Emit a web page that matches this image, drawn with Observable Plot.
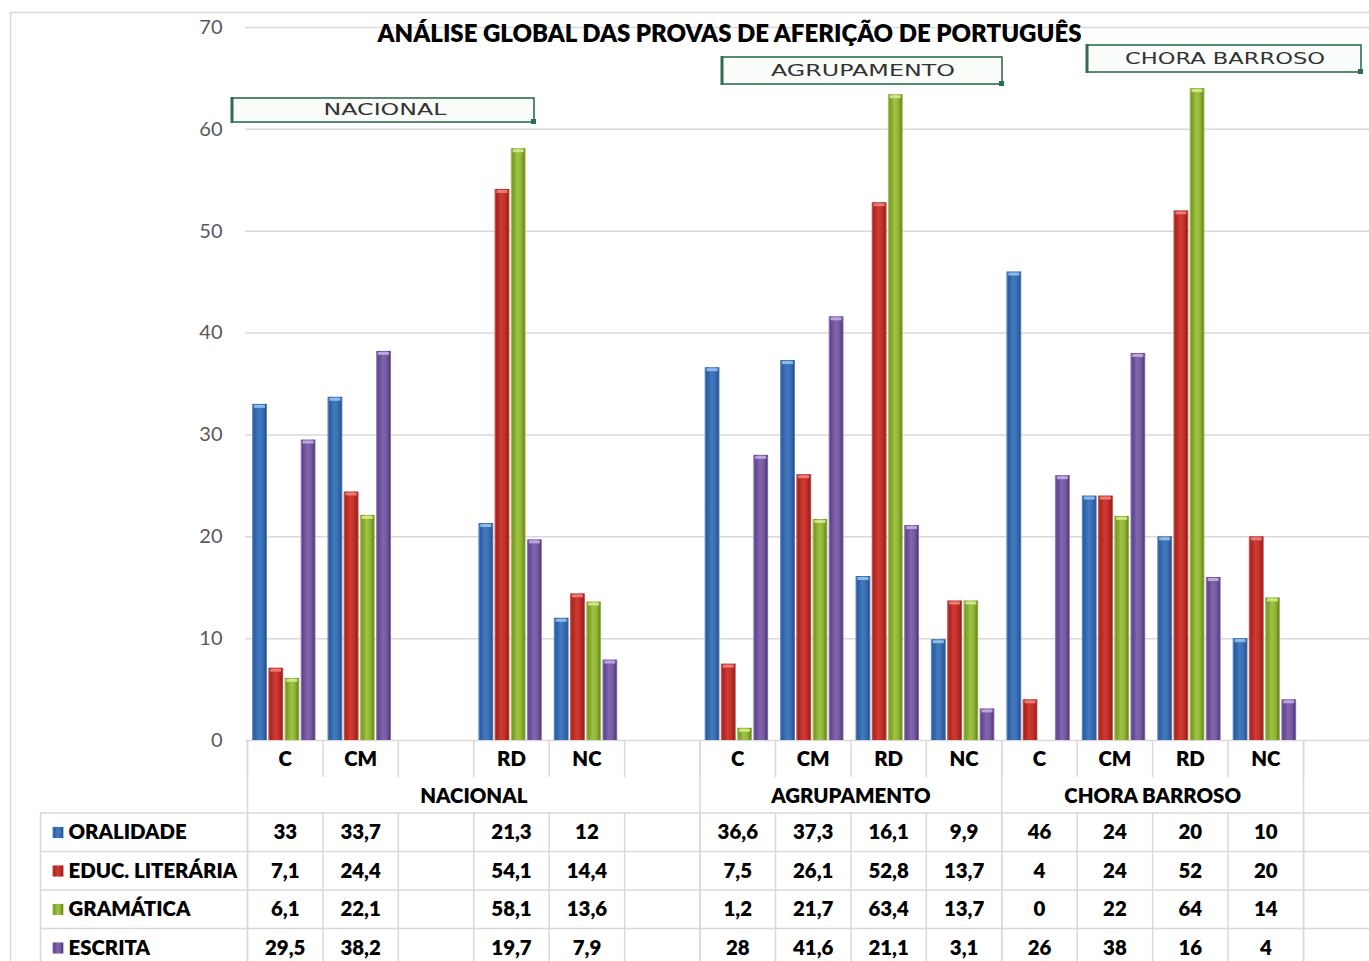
<!DOCTYPE html>
<html><head><meta charset="utf-8">
<script src="https://cdn.jsdelivr.net/npm/d3@7"></script>
<script src="https://cdn.jsdelivr.net/npm/@observablehq/plot@0.6"></script>
<style>
html,body{margin:0;padding:0;background:#fff;}
#chart{position:relative;width:1369px;height:961px;overflow:hidden;}
</style></head><body><div id="chart"></div>
<script>
// ---------- data ----------
const title = "ANÁLISE GLOBAL DAS PROVAS DE AFERIÇÃO DE PORTUGUÊS";
const series = ["ORALIDADE", "EDUC. LITERÁRIA", "GRAMÁTICA", "ESCRITA"];
const categoryLabels = ["C","CM","","RD","NC","","C","CM","RD","NC","C","CM","RD","NC",""];
const groupNames = ["NACIONAL", "AGRUPAMENTO", "CHORA BARROSO"];
const groupStarts = [0, 6, 10];
const groupSpans = [6, 4, 4];
const oralidade = [33, 33.7, null, 21.3, 12, null, 36.6, 37.3, 16.1, 9.9, 46, 24, 20, 10, null];
const educLiteraria = [7.1, 24.4, null, 54.1, 14.4, null, 7.5, 26.1, 52.8, 13.7, 4, 24, 52, 20, null];
const gramatica = [6.1, 22.1, null, 58.1, 13.6, null, 1.2, 21.7, 63.4, 13.7, 0, 22, 64, 14, null];
const escrita = [29.5, 38.2, null, 19.7, 7.9, null, 28, 41.6, 21.1, 3.1, 26, 38, 16, 4, null];
const yTicks = [0, 10, 20, 30, 40, 50, 60, 70];
const boxLabels = ["NACIONAL", "AGRUPAMENTO", "CHORA BARROSO"];

// ---------- layout ----------
const W = 1369, H = 961, mL = 247, mT = 27, mB = 221;
const colW = 75.43;
const FONT = "Lato, 'Open Sans', sans-serif";
const BOLD = 800;
const values = [oralidade, educLiteraria, gramatica, escrita];
const colKeys = categoryLabels.map((l, i) => "k" + i);
const rows = [];
values.forEach((arr, si) => arr.forEach((v, ci) => rows.push({col: colKeys[ci], si, value: v})));
const fmt = v => String(v).replace(".", ",");
const gradIds = ["gBlue", "gRed", "gGreen", "gPurple"];
const capColors = ["#9cc8f2", "#f08a82", "#d8ef95", "#c8b3e6"];
const barOff = 5, barStep = 16.2, barWidth = 15;
const rowCenters = [92, 130.5, 169, 207.5];   // offsets below baseline
const gridC = "#d9d9d9";
const tFont = 20.4;

const marks = [];
// outer chart border
marks.push(Plot.ruleY([70], {dy: -15, insetLeft: -237, stroke: gridC, strokeWidth: 1.5}));
marks.push(Plot.ruleX([colKeys[0]], {dx: -colW / 2 - 237, insetTop: -15, insetBottom: -240, stroke: gridC, strokeWidth: 1.5}));
// gridlines
marks.push(Plot.ruleY(yTicks, {stroke: gridC, strokeWidth: 1.5, insetLeft: -2}));
// bars
series.forEach((s, si) => {
  const inL = barOff + si * barStep;
  marks.push(Plot.barY(rows.filter(d => d.si === si && d.value != null), {
    x: "col", y: "value", fill: `url(#${gradIds[si]})`,
    insetLeft: inL, insetRight: colW - inL - barWidth
  }));
  marks.push(Plot.tickY(rows.filter(d => d.si === si && d.value > 0.5), {
    x: "col", y: "value", dy: 2, stroke: capColors[si], strokeWidth: 3, strokeOpacity: 0.85,
    insetLeft: inL + 2, insetRight: colW - inL - barWidth + 2
  }));
});
// ---- data table ----
const tableLine = {stroke: gridC, strokeWidth: 1.5};
marks.push(Plot.ruleY([0], {dy: 72.5, insetLeft: -207, ...tableLine}));
[111, 149.5, 188].forEach(o => marks.push(Plot.ruleY([0], {dy: o, insetLeft: -207, ...tableLine})));
marks.push(Plot.ruleX(colKeys, {dx: -colW / 2, insetTop: 740 - mT, insetBottom: -37, ...tableLine}));
marks.push(Plot.ruleX(colKeys, {dx: -colW / 2, insetTop: 740 - mT + 72.5, insetBottom: -240, ...tableLine}));
const groupEdges = [0, ...groupStarts.map((s, i) => s + groupSpans[i])];
marks.push(Plot.ruleX(groupEdges.map(i => colKeys[i]), {dx: -colW / 2, insetTop: 740 - mT, insetBottom: -240, ...tableLine}));
marks.push(Plot.ruleX([colKeys[0]], {dx: -colW / 2 - 207, insetTop: 740 - mT + 72.5, insetBottom: -240, ...tableLine}));
// category labels
marks.push(Plot.text(categoryLabels.map((l, i) => ({col: colKeys[i], l})).filter(d => d.l), {
  x: "col", frameAnchor: "bottom", dy: 18.5, text: "l", lineAnchor: "middle", textAnchor: "middle",
  fontWeight: BOLD, fontSize: tFont, fill: "#000"
}));
// group labels
marks.push(Plot.text(groupNames.map((g, i) => ({col: colKeys[groupStarts[i] + groupSpans[i] / 2], g})), {
  x: "col", frameAnchor: "bottom", dx: -colW / 2, dy: 55.5, text: "g", lineAnchor: "middle", textAnchor: "middle",
  fontWeight: BOLD, fontSize: tFont, fill: "#000"
}));
// values + legend
series.forEach((s, si) => {
  marks.push(Plot.text(rows.filter(d => d.si === si && d.value != null), {
    x: "col", frameAnchor: "bottom", dy: rowCenters[si], text: d => fmt(d.value),
    lineAnchor: "middle", textAnchor: "middle", fontWeight: BOLD, fontSize: tFont, fill: "#000"
  }));
  marks.push(Plot.dot([s], {
    frameAnchor: "bottom-left", dx: 57.5 - mL, dy: rowCenters[si], symbol: "square", r: 6.3,
    fill: `url(#${gradIds[si]})`, stroke: "none"
  }));
  marks.push(Plot.text([s], {
    frameAnchor: "bottom-left", dx: 68 - mL, dy: rowCenters[si], text: d => d,
    lineAnchor: "middle", textAnchor: "start", fontWeight: BOLD, fontSize: tFont, fill: "#000"
  }));
});
// title
marks.push(Plot.text([title], {
  frameAnchor: "top-left", dx: 729 - mL, dy: 34 - mT, text: d => d, lineAnchor: "middle", textAnchor: "middle",
  fontWeight: BOLD, fontSize: 24, fill: "#000"
}));

const plot = Plot.plot({
  width: W, height: H,
  marginLeft: mL, marginRight: 0, marginTop: mT, marginBottom: mB,
  x: {domain: colKeys, range: [mL, mL + colKeys.length * colW], padding: 0, round: false, axis: null},
  y: {domain: [0, 70], ticks: yTicks, tickSize: 0, tickPadding: 25, label: null},
  style: {fontFamily: FONT, fontSize: "20px", color: "#595959", background: "#fff", overflow: "hidden"},
  marks
});

// gradient definitions for the 3D-looking bars
const svg = d3.select(plot);
const defs = svg.insert("defs", ":first-child");
const gradStops = [
  ["#6f9fd9", "#2b5b9c", "#4179c0", "#3a6fb3", "#29568f", "#6a9ad4"],
  ["#dd6f69", "#a5241e", "#d23a33", "#c22f2a", "#98211d", "#d86863"],
  ["#bcd673", "#769828", "#9fc441", "#90b436", "#6c8b24", "#b6d26a"],
  ["#a991c9", "#5d448e", "#8266ad", "#765ba2", "#553d7d", "#a38bc4"]
];
const offs = [0, 0.13, 0.45, 0.7, 0.9, 1];
gradIds.forEach((id, i) => {
  const g = defs.append("linearGradient").attr("id", id).attr("x1", 0).attr("x2", 1).attr("y1", 0).attr("y2", 0);
  gradStops[i].forEach((c, j) => g.append("stop").attr("offset", offs[j]).attr("stop-color", c));
});

// annotation text boxes (Excel text boxes)
const boxes = [
  {x: 232, y: 98, w: 302, h: 24, tx: 385, tw: 123},
  {x: 722, y: 57, w: 280, h: 27, tx: 863, tw: 184},
  {x: 1087, y: 45, w: 274, h: 27, tx: 1225, tw: 200}
];
boxes.forEach((b, i) => {
  const g = svg.append("g");
  g.append("rect").attr("x", b.x).attr("y", b.y).attr("width", b.w).attr("height", b.h)
    .attr("fill", "#fbfdfb").attr("stroke", "#2d6e4e").attr("stroke-width", 1.6);
  g.append("line").attr("x1", b.x).attr("x2", b.x).attr("y1", b.y - 1).attr("y2", b.y + b.h + 1)
    .attr("stroke", "#2d6e4e").attr("stroke-width", 3);
  g.append("rect").attr("x", b.x + b.w - 3).attr("y", b.y + b.h - 3).attr("width", 5).attr("height", 5).attr("fill", "#2d6e4e");
  g.append("text").attr("x", b.tx).attr("y", b.y + b.h / 2).attr("dy", "0.36em")
    .attr("text-anchor", "middle").attr("font-family", "'DejaVu Sans', sans-serif").attr("font-size", 15)
    .attr("fill", "#333").attr("textLength", b.tw).attr("lengthAdjust", "spacingAndGlyphs")
    .text(boxLabels[i]);
});

document.getElementById("chart").appendChild(plot);
</script>
</body></html>
